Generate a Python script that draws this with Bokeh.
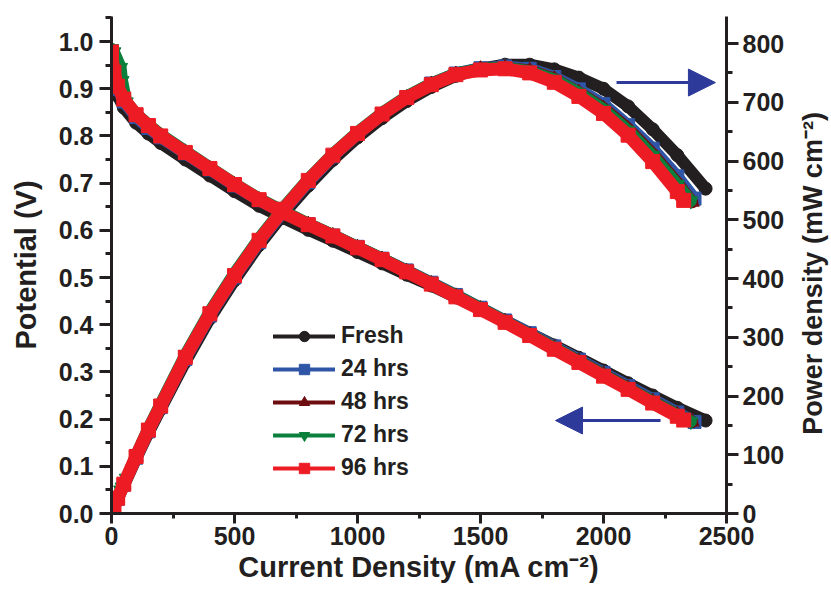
import math
import numpy as np
from bokeh.plotting import figure
from bokeh.layouts import row
from bokeh.core.properties import value
from bokeh.models import (Range1d, LinearAxis, SingleIntervalTicker, PrintfTickFormatter,
                          Legend, LegendItem, Arrow, NormalHead)
from bokeh.embed import file_html
from bokeh.resources import INLINE

# ---------------- data ----------------
series_names = ["Fresh", "24 hrs", "48 hrs", "72 hrs", "96 hrs"]

j_fresh = [0, 10, 25, 50, 100, 150, 200, 300, 400, 500, 600, 700, 800, 900, 1000, 1100, 1200,
           1300, 1400, 1500, 1600, 1700, 1800, 1900, 2000, 2100, 2200, 2300, 2415]
v_fresh = [0.970, 0.915, 0.885, 0.860, 0.828, 0.805, 0.785, 0.750, 0.716, 0.683, 0.652, 0.626,
           0.601, 0.578, 0.554, 0.530, 0.506, 0.483, 0.458, 0.433, 0.408, 0.382, 0.356, 0.330,
           0.303, 0.276, 0.250, 0.224, 0.197]
p_fresh = [0, 10, 24, 47, 93, 137, 178, 258, 332, 397, 457, 510, 558, 602, 640, 673, 702, 726,
           745, 757, 764, 764, 756, 742, 723, 693, 654, 610, 553]

j_24 = [0, 10, 25, 50, 100, 150, 200, 300, 400, 500, 600, 700, 800, 900, 1000, 1100, 1200,
        1300, 1400, 1500, 1600, 1700, 1800, 1900, 2000, 2100, 2200, 2300, 2370]
v_24 = [0.975, 0.930, 0.900, 0.873, 0.840, 0.817, 0.797, 0.763, 0.729, 0.695, 0.664, 0.637,
        0.613, 0.589, 0.565, 0.540, 0.515, 0.489, 0.463, 0.436, 0.409, 0.382, 0.354, 0.326,
        0.298, 0.270, 0.242, 0.214, 0.194]
p_24 = [0, 10.5, 25, 49, 95, 140, 181, 263, 337, 402, 462, 515, 564, 608, 646, 680, 709, 732,
        749, 758, 761, 757, 743, 722, 697, 661, 621, 574, 536]

j_48 = [0, 10, 25, 50, 100, 150, 200, 300, 400, 500, 600, 700, 800, 900, 1000, 1100, 1200,
        1300, 1400, 1500, 1600, 1700, 1800, 1900, 2000, 2100, 2200, 2300, 2361]
v_48 = [0.980, 0.935, 0.905, 0.878, 0.845, 0.822, 0.801, 0.766, 0.731, 0.697, 0.665, 0.638,
        0.613, 0.589, 0.564, 0.539, 0.513, 0.487, 0.461, 0.434, 0.407, 0.379, 0.351, 0.323,
        0.295, 0.266, 0.238, 0.210, 0.194]
p_48 = [0, 11, 26, 50, 97, 142, 183, 266, 340, 405, 465, 518, 567, 610, 647, 680, 708, 731,
        748, 757, 759, 754, 740, 717, 690, 655, 612, 563, 530]

j_72 = [0, 10, 37, 43, 60, 100, 150, 200, 300, 400, 500, 600, 700, 800, 900, 1000, 1100, 1200,
        1300, 1400, 1500, 1600, 1700, 1800, 1900, 2000, 2100, 2200, 2300, 2355]
v_72 = [0.985, 0.978, 0.945, 0.917, 0.872, 0.847, 0.824, 0.803, 0.768, 0.733, 0.699, 0.667,
        0.640, 0.614, 0.590, 0.565, 0.540, 0.514, 0.488, 0.462, 0.435, 0.407, 0.379, 0.351,
        0.322, 0.294, 0.265, 0.237, 0.209, 0.195]
p_72 = [0, 12, 40, 45, 60, 99, 145, 187, 270, 344, 409, 468, 521, 569, 612, 649, 682, 710,
        732, 749, 757, 759, 753, 739, 716, 688, 652, 609, 560, 532]

j_96 = [0, 10, 25, 50, 100, 150, 200, 300, 400, 500, 600, 700, 800, 900, 1000, 1100, 1200,
        1300, 1400, 1500, 1600, 1700, 1800, 1900, 2000, 2100, 2200, 2300, 2326]
v_96 = [0.978, 0.935, 0.905, 0.878, 0.845, 0.822, 0.800, 0.765, 0.731, 0.697, 0.665, 0.637,
        0.612, 0.588, 0.563, 0.538, 0.512, 0.486, 0.459, 0.432, 0.405, 0.377, 0.348, 0.320,
        0.291, 0.263, 0.234, 0.206, 0.198]
p_96 = [0, 11, 26, 50, 97, 142, 183, 266, 340, 405, 465, 518, 567, 610, 647, 680, 708, 730,
        747, 755, 757, 750, 734, 710, 681, 644, 599, 548, 533]

x_ticks_interval = 500
v_ticks_interval = 0.1
p_ticks_interval = 100

x_title = "Current Density (mA cm\u207b\u00b2)"
y_title = "Potential (V)"
y2_title = "Power density (mW cm\u207b\u00b2)"

# ---------------- styling ----------------
FONT = "Liberation Sans"
INK = "#231f20"
colors = ["#231f20", "#2f55a6", "#6e0d0f", "#0b7f3c", "#ed1c24"]
markers = ["circle", "square", "triangle", "inverted_triangle", "square"]
msize = [13, 13, 14, 14, 14]
lw = [12, 12, 12, 12, 13]
ARROW = "#2e3a9a"

MAIN_W, SIDE_W, H = 795, 36, 592

p = figure(width=MAIN_W, height=H, output_backend="svg", toolbar_location=None,
           x_range=Range1d(0, 2500), y_range=Range1d(0, 1.053),
           min_border_left=111, min_border_right=MAIN_W - 726, min_border_top=16,
           min_border_bottom=79)
p.extra_y_ranges = {"power": Range1d(0, 846)}
p.outline_line_color = None
p.xgrid.visible = False
p.ygrid.visible = False
p.background_fill_color = "white"
p.border_fill_color = "white"

data = [(j_fresh, v_fresh, p_fresh), (j_24, v_24, p_24), (j_48, v_48, p_48),
        (j_72, v_72, p_72), (j_96, v_96, p_96)]

legend_items = []
for i, (jj, vv, pp) in enumerate(data):
    c = colors[i]
    for yy, rng in ((vv, "default"), (pp, "power")):
        p.line(jj, yy, line_color=c, line_width=lw[i], line_cap="round", line_join="round",
               y_range_name=rng)
        p.scatter(jj, yy, marker=markers[i], size=msize[i], fill_color=c, line_color=c,
                  y_range_name=rng)
    # legend-only glyphs (thin line + small marker), no visible data
    lr = p.line(np.array([np.nan]), np.array([np.nan]), line_color=c, line_width=4, line_cap="round")
    sr = p.scatter(np.array([np.nan]), np.array([np.nan]), marker=markers[i], fill_color=c,
                   line_color=c, size=10)
    legend_items.append(LegendItem(label=series_names[i], renderers=[lr, sr]))

legend = Legend(items=legend_items, location=(162, 32), orientation="vertical",
                background_fill_alpha=0, border_line_color=None, padding=0, margin=0,
                spacing=6, glyph_width=62, glyph_height=26, label_height=26, label_standoff=6,
                label_text_font=FONT, label_text_font_style="bold", label_text_font_size="23px",
                label_text_color=INK)
p.add_layout(legend, "center")

def style_axis(ax, major_out=12, minor_out=6):
    ax.axis_line_width = 3
    ax.axis_line_color = INK
    ax.major_tick_line_width = 3
    ax.minor_tick_line_width = 3
    ax.major_tick_line_color = INK
    ax.minor_tick_line_color = INK
    ax.major_tick_out = major_out
    ax.major_tick_in = 0
    ax.minor_tick_out = minor_out
    ax.minor_tick_in = 0
    ax.major_label_text_font = FONT
    ax.major_label_text_font_style = "bold"
    ax.major_label_text_font_size = "25px"
    ax.major_label_text_color = INK
    ax.axis_label_text_font = FONT
    ax.axis_label_text_font_style = "bold"
    ax.axis_label_text_font_size = "29px"
    ax.axis_label_text_color = INK

xa = p.xaxis[0]
xa.ticker = SingleIntervalTicker(interval=x_ticks_interval, num_minor_ticks=2)
xa.axis_label = x_title
style_axis(xa, 10, 5)
xa.major_label_standoff = 3
xa.axis_label_standoff = 3

ya = p.yaxis[0]
ya.ticker = SingleIntervalTicker(interval=v_ticks_interval, num_minor_ticks=2)
ya.formatter = PrintfTickFormatter(format="%.1f")
ya.axis_label = y_title
style_axis(ya)
ya.major_label_standoff = 6
ya.axis_label_standoff = 14

ra = LinearAxis(y_range_name="power",
                ticker=SingleIntervalTicker(interval=p_ticks_interval, num_minor_ticks=2))
style_axis(ra)
ra.major_label_standoff = 4
p.add_layout(ra, "right")

# arrows pointing to the respective axes
p.add_layout(Arrow(x_start=2232, y_start=0.197, x_end=1805, y_end=0.197,
                   line_color=ARROW, line_width=3,
                   end=NormalHead(size=27, fill_color=ARROW, line_color=ARROW, line_width=1)))
p.add_layout(Arrow(x_start=2053, y_start=0.913, x_end=2455, y_end=0.913,
                   line_color=ARROW, line_width=3,
                   end=NormalHead(size=27, fill_color=ARROW, line_color=ARROW, line_width=1)))

# narrow strip on the right carrying the power-axis title (reads bottom to top)
side = figure(width=SIDE_W, height=H, output_backend="svg", toolbar_location=None,
              x_range=Range1d(0, SIDE_W), y_range=Range1d(0, H),
              x_axis_type=None, y_axis_type=None, min_border=0)
side.outline_line_color = None
side.grid.visible = False
side.text(x=[SIDE_W / 2 - 1], y=[H - 306], text=[y2_title], angle=math.pi / 2,
          text_align="center", text_baseline="middle", text_font=value(FONT),
          text_font_style="bold", text_font_size=value("27px"), text_color=INK)

layout = row(p, side, spacing=0)

with open("out.html", "w") as f:
    f.write(file_html(layout, INLINE))
